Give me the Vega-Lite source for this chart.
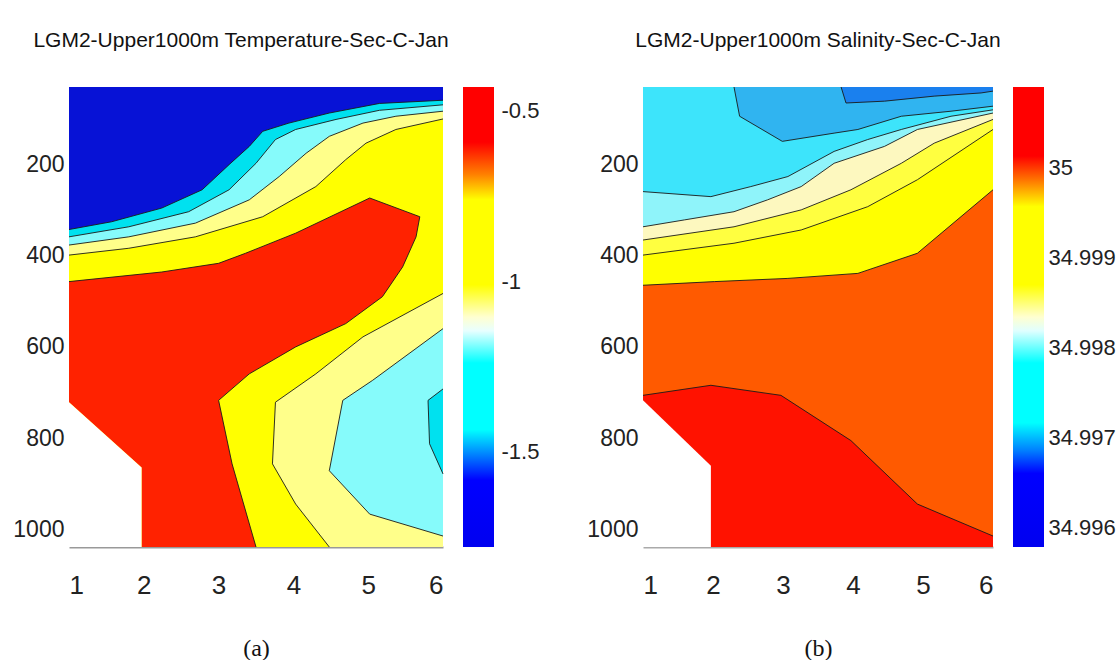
{
  "$schema": "https://vega.github.io/schema/vega-lite/v6.json",
  "background": "white",
  "padding": {"left": 12, "top": 30, "right": 0, "bottom": 0},
  "config": {
    "view": {"stroke": null},
    "font": "Liberation Sans",
    "axis": {"grid": false, "ticks": false, "tickSize": 0, "domain": false, "labelPadding": 5, "labelColor": "#222", "labelFont": "Liberation Sans"},
    "title": {"font": "Liberation Sans", "fontSize": 21, "fontWeight": "normal", "color": "#111"}
  },
  "datasets": {
    "fa": [
      {"p":"a1","o":0,"x":1,"d":31},{"p":"a1","o":1,"x":6,"d":31},{"p":"a1","o":2,"x":6,"d":1038},{"p":"a1","o":3,"x":1,"d":1038},
      {"p":"a2","o":0,"x":1,"d":343},{"p":"a2","o":1,"x":1.57,"d":326},{"p":"a2","o":2,"x":2.24,"d":296},{"p":"a2","o":3,"x":2.78,"d":256},{"p":"a2","o":4,"x":3.14,"d":201},{"p":"a2","o":5,"x":3.41,"d":161},{"p":"a2","o":6,"x":3.59,"d":128},{"p":"a2","o":7,"x":3.94,"d":110},{"p":"a2","o":8,"x":4.48,"d":88},{"p":"a2","o":9,"x":5.15,"d":67},{"p":"a2","o":10,"x":6,"d":60},{"p":"a2","o":11,"x":6,"d":1038},{"p":"a2","o":12,"x":1,"d":1038},
      {"p":"a3","o":0,"x":1,"d":359},{"p":"a3","o":1,"x":1.8,"d":337},{"p":"a3","o":2,"x":2.6,"d":304},{"p":"a3","o":3,"x":3.14,"d":256},{"p":"a3","o":4,"x":3.5,"d":198},{"p":"a3","o":5,"x":3.76,"d":146},{"p":"a3","o":6,"x":4.03,"d":124},{"p":"a3","o":7,"x":4.57,"d":102},{"p":"a3","o":8,"x":5.15,"d":82},{"p":"a3","o":9,"x":6,"d":70},{"p":"a3","o":10,"x":6,"d":1038},{"p":"a3","o":11,"x":1,"d":1038},
      {"p":"a4","o":0,"x":1,"d":377},{"p":"a4","o":1,"x":1.8,"d":359},{"p":"a4","o":2,"x":2.69,"d":329},{"p":"a4","o":3,"x":3.41,"d":278},{"p":"a4","o":4,"x":3.81,"d":227},{"p":"a4","o":5,"x":4.17,"d":176},{"p":"a4","o":6,"x":4.48,"d":139},{"p":"a4","o":7,"x":4.93,"d":110},{"p":"a4","o":8,"x":5.37,"d":95},{"p":"a4","o":9,"x":6,"d":84},{"p":"a4","o":10,"x":6,"d":1038},{"p":"a4","o":11,"x":1,"d":1038},
      {"p":"a5","o":0,"x":1,"d":399},{"p":"a5","o":1,"x":1.8,"d":384},{"p":"a5","o":2,"x":2.69,"d":359},{"p":"a5","o":3,"x":3.59,"d":315},{"p":"a5","o":4,"x":4.3,"d":249},{"p":"a5","o":5,"x":4.7,"d":190},{"p":"a5","o":6,"x":4.97,"d":154},{"p":"a5","o":7,"x":5.37,"d":124},{"p":"a5","o":8,"x":6,"d":101},{"p":"a5","o":9,"x":6,"d":1038},{"p":"a5","o":10,"x":1,"d":1038},
      {"p":"a6","o":0,"x":6,"d":483},{"p":"a6","o":1,"x":4.93,"d":578},{"p":"a6","o":2,"x":4.3,"d":659},{"p":"a6","o":3,"x":3.76,"d":721},{"p":"a6","o":4,"x":3.72,"d":856},{"p":"a6","o":5,"x":4.03,"d":944},{"p":"a6","o":6,"x":4.48,"d":1038},{"p":"a6","o":7,"x":6,"d":1038},
      {"p":"a7","o":0,"x":6,"d":560},{"p":"a7","o":1,"x":5.06,"d":673},{"p":"a7","o":2,"x":4.66,"d":717},{"p":"a7","o":3,"x":4.48,"d":871},{"p":"a7","o":4,"x":5.02,"d":966},{"p":"a7","o":5,"x":6,"d":1014},
      {"p":"a8","o":0,"x":6,"d":692},{"p":"a8","o":1,"x":5.8,"d":717},{"p":"a8","o":2,"x":5.82,"d":812},{"p":"a8","o":3,"x":6,"d":878},
      {"p":"a9","o":0,"x":1,"d":457},{"p":"a9","o":1,"x":2.24,"d":436},{"p":"a9","o":2,"x":3,"d":417},{"p":"a9","o":3,"x":3.36,"d":395},{"p":"a9","o":4,"x":4.03,"d":351},{"p":"a9","o":5,"x":5.02,"d":274},{"p":"a9","o":6,"x":5.69,"d":315},{"p":"a9","o":7,"x":5.64,"d":359},{"p":"a9","o":8,"x":5.46,"d":425},{"p":"a9","o":9,"x":5.19,"d":490},{"p":"a9","o":10,"x":4.7,"d":549},{"p":"a9","o":11,"x":4.03,"d":600},{"p":"a9","o":12,"x":3.41,"d":659},{"p":"a9","o":13,"x":3,"d":717},{"p":"a9","o":14,"x":3.18,"d":856},{"p":"a9","o":15,"x":3.5,"d":1038},{"p":"a9","o":16,"x":1.97,"d":1038},{"p":"a9","o":17,"x":1.97,"d":864},{"p":"a9","o":18,"x":1,"d":721},
      {"p":"a10","o":0,"x":1,"d":721},{"p":"a10","o":1,"x":1.97,"d":864},{"p":"a10","o":2,"x":1.97,"d":1038},{"p":"a10","o":3,"x":1,"d":1038}
    ],
    "la": [
      {"l":"A1","o":0,"x":1,"d":343},{"l":"A1","o":1,"x":1.57,"d":326},{"l":"A1","o":2,"x":2.24,"d":296},{"l":"A1","o":3,"x":2.78,"d":256},{"l":"A1","o":4,"x":3.14,"d":201},{"l":"A1","o":5,"x":3.41,"d":161},{"l":"A1","o":6,"x":3.59,"d":128},{"l":"A1","o":7,"x":3.94,"d":110},{"l":"A1","o":8,"x":4.48,"d":88},{"l":"A1","o":9,"x":5.15,"d":67},{"l":"A1","o":10,"x":6,"d":60},
      {"l":"A2","o":0,"x":1,"d":359},{"l":"A2","o":1,"x":1.8,"d":337},{"l":"A2","o":2,"x":2.6,"d":304},{"l":"A2","o":3,"x":3.14,"d":256},{"l":"A2","o":4,"x":3.5,"d":198},{"l":"A2","o":5,"x":3.76,"d":146},{"l":"A2","o":6,"x":4.03,"d":124},{"l":"A2","o":7,"x":4.57,"d":102},{"l":"A2","o":8,"x":5.15,"d":82},{"l":"A2","o":9,"x":6,"d":70},
      {"l":"A3","o":0,"x":1,"d":377},{"l":"A3","o":1,"x":1.8,"d":359},{"l":"A3","o":2,"x":2.69,"d":329},{"l":"A3","o":3,"x":3.41,"d":278},{"l":"A3","o":4,"x":3.81,"d":227},{"l":"A3","o":5,"x":4.17,"d":176},{"l":"A3","o":6,"x":4.48,"d":139},{"l":"A3","o":7,"x":4.93,"d":110},{"l":"A3","o":8,"x":5.37,"d":95},{"l":"A3","o":9,"x":6,"d":84},
      {"l":"A4","o":0,"x":1,"d":399},{"l":"A4","o":1,"x":1.8,"d":384},{"l":"A4","o":2,"x":2.69,"d":359},{"l":"A4","o":3,"x":3.59,"d":315},{"l":"A4","o":4,"x":4.3,"d":249},{"l":"A4","o":5,"x":4.7,"d":190},{"l":"A4","o":6,"x":4.97,"d":154},{"l":"A4","o":7,"x":5.37,"d":124},{"l":"A4","o":8,"x":6,"d":101},
      {"l":"A5","o":0,"x":6,"d":483},{"l":"A5","o":1,"x":4.93,"d":578},{"l":"A5","o":2,"x":4.3,"d":659},{"l":"A5","o":3,"x":3.76,"d":721},{"l":"A5","o":4,"x":3.72,"d":856},{"l":"A5","o":5,"x":4.03,"d":944},{"l":"A5","o":6,"x":4.48,"d":1038},
      {"l":"A6","o":0,"x":6,"d":560},{"l":"A6","o":1,"x":5.06,"d":673},{"l":"A6","o":2,"x":4.66,"d":717},{"l":"A6","o":3,"x":4.48,"d":871},{"l":"A6","o":4,"x":5.02,"d":966},{"l":"A6","o":5,"x":6,"d":1014},
      {"l":"A7","o":0,"x":6,"d":692},{"l":"A7","o":1,"x":5.8,"d":717},{"l":"A7","o":2,"x":5.82,"d":812},{"l":"A7","o":3,"x":6,"d":878},
      {"l":"A8","o":0,"x":1,"d":457},{"l":"A8","o":1,"x":2.24,"d":436},{"l":"A8","o":2,"x":3,"d":417},{"l":"A8","o":3,"x":3.36,"d":395},{"l":"A8","o":4,"x":4.03,"d":351},{"l":"A8","o":5,"x":5.02,"d":274},{"l":"A8","o":6,"x":5.69,"d":315},{"l":"A8","o":7,"x":5.64,"d":359},{"l":"A8","o":8,"x":5.46,"d":425},{"l":"A8","o":9,"x":5.19,"d":490},{"l":"A8","o":10,"x":4.7,"d":549},{"l":"A8","o":11,"x":4.03,"d":600},{"l":"A8","o":12,"x":3.41,"d":659},{"l":"A8","o":13,"x":3,"d":717},{"l":"A8","o":14,"x":3.18,"d":856},{"l":"A8","o":15,"x":3.5,"d":1038}
    ],
    "fb": [
      {"p":"b1","o":0,"x":1,"d":31},{"p":"b1","o":1,"x":6,"d":31},{"p":"b1","o":2,"x":6,"d":1038},{"p":"b1","o":3,"x":1,"d":1038},
      {"p":"b2","o":0,"x":1,"d":260},{"p":"b2","o":1,"x":1.97,"d":271},{"p":"b2","o":2,"x":2.54,"d":249},{"p":"b2","o":3,"x":3.07,"d":227},{"p":"b2","o":4,"x":3.73,"d":172},{"p":"b2","o":5,"x":4.21,"d":146},{"p":"b2","o":6,"x":4.69,"d":124},{"p":"b2","o":7,"x":5.4,"d":95},{"p":"b2","o":8,"x":6,"d":81},{"p":"b2","o":9,"x":6,"d":1038},{"p":"b2","o":10,"x":1,"d":1038},
      {"p":"b3","o":0,"x":1,"d":337},{"p":"b3","o":1,"x":1.59,"d":322},{"p":"b3","o":2,"x":2.3,"d":304},{"p":"b3","o":3,"x":2.78,"d":278},{"p":"b3","o":4,"x":3.26,"d":249},{"p":"b3","o":5,"x":3.73,"d":198},{"p":"b3","o":6,"x":4.45,"d":161},{"p":"b3","o":7,"x":4.92,"d":124},{"p":"b3","o":8,"x":6,"d":88},{"p":"b3","o":9,"x":6,"d":1038},{"p":"b3","o":10,"x":1,"d":1038},
      {"p":"b4","o":0,"x":1,"d":366},{"p":"b4","o":1,"x":2.3,"d":337},{"p":"b4","o":2,"x":3.26,"d":300},{"p":"b4","o":3,"x":3.97,"d":256},{"p":"b4","o":4,"x":4.69,"d":198},{"p":"b4","o":5,"x":5.16,"d":154},{"p":"b4","o":6,"x":6,"d":102},{"p":"b4","o":7,"x":6,"d":1038},{"p":"b4","o":8,"x":1,"d":1038},
      {"p":"b5","o":0,"x":1,"d":399},{"p":"b5","o":1,"x":2.3,"d":373},{"p":"b5","o":2,"x":3.26,"d":344},{"p":"b5","o":3,"x":4.21,"d":293},{"p":"b5","o":4,"x":4.92,"d":234},{"p":"b5","o":5,"x":6,"d":124},{"p":"b5","o":6,"x":6,"d":1038},{"p":"b5","o":7,"x":1,"d":1038},
      {"p":"b6","o":0,"x":1,"d":465},{"p":"b6","o":1,"x":2.02,"d":457},{"p":"b6","o":2,"x":3.07,"d":450},{"p":"b6","o":3,"x":4.07,"d":439},{"p":"b6","o":4,"x":4.92,"d":395},{"p":"b6","o":5,"x":6,"d":256},{"p":"b6","o":6,"x":6,"d":1038},{"p":"b6","o":7,"x":1,"d":1038},
      {"p":"b7","o":0,"x":1,"d":706},{"p":"b7","o":1,"x":1.97,"d":684},{"p":"b7","o":2,"x":2.97,"d":706},{"p":"b7","o":3,"x":3.97,"d":805},{"p":"b7","o":4,"x":4.92,"d":944},{"p":"b7","o":5,"x":6,"d":1014},{"p":"b7","o":6,"x":6,"d":1038},{"p":"b7","o":7,"x":1,"d":1038},
      {"p":"b8","o":0,"x":1,"d":717},{"p":"b8","o":1,"x":1.97,"d":860},{"p":"b8","o":2,"x":1.97,"d":1038},{"p":"b8","o":3,"x":1,"d":1038},
      {"p":"b9","o":0,"x":2.3,"d":31},{"p":"b9","o":1,"x":2.38,"d":95},{"p":"b9","o":2,"x":2.99,"d":150},{"p":"b9","o":3,"x":3.73,"d":132},{"p":"b9","o":4,"x":4.07,"d":124},{"p":"b9","o":5,"x":4.69,"d":95},{"p":"b9","o":6,"x":5.4,"d":84},{"p":"b9","o":7,"x":6,"d":73},{"p":"b9","o":8,"x":6,"d":31},
      {"p":"b10","o":0,"x":3.83,"d":31},{"p":"b10","o":1,"x":3.9,"d":66},{"p":"b10","o":2,"x":4.45,"d":62},{"p":"b10","o":3,"x":5.16,"d":51},{"p":"b10","o":4,"x":5.83,"d":44},{"p":"b10","o":5,"x":6,"d":40},{"p":"b10","o":6,"x":6,"d":31}
    ],
    "lb": [
      {"l":"B0","o":0,"x":1,"d":260},{"l":"B0","o":1,"x":1.97,"d":271},{"l":"B0","o":2,"x":2.54,"d":249},{"l":"B0","o":3,"x":3.07,"d":227},{"l":"B0","o":4,"x":3.73,"d":172},{"l":"B0","o":5,"x":4.21,"d":146},{"l":"B0","o":6,"x":4.69,"d":124},{"l":"B0","o":7,"x":5.4,"d":95},{"l":"B0","o":8,"x":6,"d":81},
      {"l":"B1","o":0,"x":1,"d":337},{"l":"B1","o":1,"x":1.59,"d":322},{"l":"B1","o":2,"x":2.3,"d":304},{"l":"B1","o":3,"x":2.78,"d":278},{"l":"B1","o":4,"x":3.26,"d":249},{"l":"B1","o":5,"x":3.73,"d":198},{"l":"B1","o":6,"x":4.45,"d":161},{"l":"B1","o":7,"x":4.92,"d":124},{"l":"B1","o":8,"x":6,"d":88},
      {"l":"B2","o":0,"x":1,"d":366},{"l":"B2","o":1,"x":2.3,"d":337},{"l":"B2","o":2,"x":3.26,"d":300},{"l":"B2","o":3,"x":3.97,"d":256},{"l":"B2","o":4,"x":4.69,"d":198},{"l":"B2","o":5,"x":5.16,"d":154},{"l":"B2","o":6,"x":6,"d":102},
      {"l":"B3","o":0,"x":1,"d":399},{"l":"B3","o":1,"x":2.3,"d":373},{"l":"B3","o":2,"x":3.26,"d":344},{"l":"B3","o":3,"x":4.21,"d":293},{"l":"B3","o":4,"x":4.92,"d":234},{"l":"B3","o":5,"x":6,"d":124},
      {"l":"B4","o":0,"x":1,"d":465},{"l":"B4","o":1,"x":2.02,"d":457},{"l":"B4","o":2,"x":3.07,"d":450},{"l":"B4","o":3,"x":4.07,"d":439},{"l":"B4","o":4,"x":4.92,"d":395},{"l":"B4","o":5,"x":6,"d":256},
      {"l":"B5","o":0,"x":1,"d":706},{"l":"B5","o":1,"x":1.97,"d":684},{"l":"B5","o":2,"x":2.97,"d":706},{"l":"B5","o":3,"x":3.97,"d":805},{"l":"B5","o":4,"x":4.92,"d":944},{"l":"B5","o":5,"x":6,"d":1014},
      {"l":"B6","o":0,"x":2.3,"d":31},{"l":"B6","o":1,"x":2.38,"d":95},{"l":"B6","o":2,"x":2.99,"d":150},{"l":"B6","o":3,"x":3.73,"d":132},{"l":"B6","o":4,"x":4.07,"d":124},{"l":"B6","o":5,"x":4.69,"d":95},{"l":"B6","o":6,"x":5.4,"d":84},{"l":"B6","o":7,"x":6,"d":73},
      {"l":"B7","o":0,"x":3.83,"d":31},{"l":"B7","o":1,"x":3.9,"d":66},{"l":"B7","o":2,"x":4.45,"d":62},{"l":"B7","o":3,"x":5.16,"d":51},{"l":"B7","o":4,"x":5.83,"d":44},{"l":"B7","o":5,"x":6,"d":40}
    ]
  },
  "bounds": "flush",
  "spacing": 20,
  "hconcat": [
    {
      "width": 374, "height": 460,
      "title": {"text": "LGM2-Upper1000m Temperature-Sec-C-Jan", "dx": -15, "offset": 36},
      "data": {"name": "fa"},
      "encoding": {
        "x": {"field": "x", "type": "quantitative", "scale": {"domain": [1, 6], "nice": false, "zero": false},
              "axis": {"values": [1, 2, 3, 4, 5, 6], "title": "(a)", "domain": true, "domainColor": "#999", "domainWidth": 2, "labelFontSize": 26, "labelPadding": 25, "titleFont": "Liberation Serif", "titleFontSize": 24, "titleFontWeight": "normal", "titleColor": "#111", "titlePadding": 38}},
        "y": {"field": "d", "type": "quantitative", "scale": {"domain": [31, 1038], "reverse": true, "nice": false, "zero": false},
              "axis": {"values": [200, 400, 600, 800, 1000], "labelExpr": "'' + datum.value", "title": null, "labelFontSize": 23, "labelPadding": 5}},
        "order": {"field": "o", "type": "quantitative"}
      },
      "layer": [
        {"transform": [{"filter": "datum.p === 'a1'"}], "mark": {"type": "line", "filled": true, "color": "#0712d6", "strokeWidth": 0}},
        {"transform": [{"filter": "datum.p === 'a2'"}], "mark": {"type": "line", "filled": true, "color": "#00e1ef", "strokeWidth": 0}},
        {"transform": [{"filter": "datum.p === 'a3'"}], "mark": {"type": "line", "filled": true, "color": "#86fbfb", "strokeWidth": 0}},
        {"transform": [{"filter": "datum.p === 'a4'"}], "mark": {"type": "line", "filled": true, "color": "#ffff8a", "strokeWidth": 0}},
        {"transform": [{"filter": "datum.p === 'a5'"}], "mark": {"type": "line", "filled": true, "color": "#ffff00", "strokeWidth": 0}},
        {"transform": [{"filter": "datum.p === 'a6'"}], "mark": {"type": "line", "filled": true, "color": "#ffff8a", "strokeWidth": 0}},
        {"transform": [{"filter": "datum.p === 'a7'"}], "mark": {"type": "line", "filled": true, "color": "#86fbfb", "strokeWidth": 0}},
        {"transform": [{"filter": "datum.p === 'a8'"}], "mark": {"type": "line", "filled": true, "color": "#00e1ef", "strokeWidth": 0}},
        {"transform": [{"filter": "datum.p === 'a9'"}], "mark": {"type": "line", "filled": true, "color": "#ff2200", "strokeWidth": 0}},
        {"transform": [{"filter": "datum.p === 'a10'"}], "mark": {"type": "line", "filled": true, "color": "#ffffff", "strokeWidth": 0}},
        {"data": {"name": "la"}, "mark": {"type": "line", "color": "#1a1a1a", "strokeWidth": 0.9}, "encoding": {"detail": {"field": "l"}}}
      ]
    },
    {
      "width": 31, "height": 460,
      "data": {"values": [{"x0": 0, "x1": 1, "lo": -1.78, "hi": -0.43}]},
      "mark": {"type": "rect", "fill": {"gradient": "linear", "x1": 0, "y1": 0, "x2": 0, "y2": 1, "stops": [
        {"offset": 0, "color": "#ff0000"}, {"offset": 0.12, "color": "#ff0000"}, {"offset": 0.19, "color": "#ff8000"}, {"offset": 0.245, "color": "#ffff00"},
        {"offset": 0.43, "color": "#ffff00"}, {"offset": 0.5, "color": "#ffffd0"}, {"offset": 0.53, "color": "#e8ffff"}, {"offset": 0.6, "color": "#00ffff"},
        {"offset": 0.745, "color": "#00ffff"}, {"offset": 0.8, "color": "#0080ff"}, {"offset": 0.855, "color": "#0000ff"}, {"offset": 1, "color": "#0000f0"}]}},
      "encoding": {
        "x": {"field": "x0", "type": "quantitative", "scale": {"domain": [0, 1], "nice": false, "zero": false}, "axis": null},
        "x2": {"field": "x1"},
        "y": {"field": "lo", "type": "quantitative", "scale": {"domain": [-1.78, -0.43], "nice": false, "zero": false},
              "axis": {"orient": "right", "values": [-0.5, -1, -1.5], "labelExpr": "'' + datum.value", "title": null, "labelFontSize": 22, "labelPadding": 7}},
        "y2": {"field": "hi"}
      }
    },
    {
      "width": 109, "height": 460,
      "data": {"values": []},
      "mark": {"type": "point", "opacity": 0},
      "encoding": {}
    },
    {
      "width": 350, "height": 460,
      "title": {"text": "LGM2-Upper1000m Salinity-Sec-C-Jan", "offset": 34},
      "data": {"name": "fb"},
      "encoding": {
        "x": {"field": "x", "type": "quantitative", "scale": {"domain": [1, 6], "nice": false, "zero": false},
              "axis": {"values": [1, 2, 3, 4, 5, 6], "title": "(b)", "domain": true, "domainColor": "#aaa", "domainWidth": 2, "labelFontSize": 26, "labelPadding": 25, "titleFont": "Liberation Serif", "titleFontSize": 24, "titleFontWeight": "normal", "titleColor": "#111", "titlePadding": 38}},
        "y": {"field": "d", "type": "quantitative", "scale": {"domain": [31, 1038], "reverse": true, "nice": false, "zero": false},
              "axis": {"values": [200, 400, 600, 800, 1000], "labelExpr": "'' + datum.value", "title": null, "labelFontSize": 23, "labelPadding": 5}},
        "order": {"field": "o", "type": "quantitative"}
      },
      "layer": [
        {"transform": [{"filter": "datum.p === 'b1'"}], "mark": {"type": "line", "filled": true, "color": "#3de4fb", "strokeWidth": 0}},
        {"transform": [{"filter": "datum.p === 'b2'"}], "mark": {"type": "line", "filled": true, "color": "#8ff4fa", "strokeWidth": 0}},
        {"transform": [{"filter": "datum.p === 'b3'"}], "mark": {"type": "line", "filled": true, "color": "#fdf8bf", "strokeWidth": 0}},
        {"transform": [{"filter": "datum.p === 'b4'"}], "mark": {"type": "line", "filled": true, "color": "#ffff40", "strokeWidth": 0}},
        {"transform": [{"filter": "datum.p === 'b5'"}], "mark": {"type": "line", "filled": true, "color": "#ffff00", "strokeWidth": 0}},
        {"transform": [{"filter": "datum.p === 'b6'"}], "mark": {"type": "line", "filled": true, "color": "#ff5a00", "strokeWidth": 0}},
        {"transform": [{"filter": "datum.p === 'b7'"}], "mark": {"type": "line", "filled": true, "color": "#ff1200", "strokeWidth": 0}},
        {"transform": [{"filter": "datum.p === 'b9'"}], "mark": {"type": "line", "filled": true, "color": "#30b4f0", "strokeWidth": 0}},
        {"transform": [{"filter": "datum.p === 'b10'"}], "mark": {"type": "line", "filled": true, "color": "#1a80ee", "strokeWidth": 0}},
        {"transform": [{"filter": "datum.p === 'b8'"}], "mark": {"type": "line", "filled": true, "color": "#ffffff", "strokeWidth": 0}},
        {"data": {"name": "lb"}, "mark": {"type": "line", "color": "#1a1a1a", "strokeWidth": 0.9}, "encoding": {"detail": {"field": "l"}}}
      ]
    },
    {
      "width": 31, "height": 460,
      "data": {"values": [{"x0": 0, "x1": 1, "lo": 34.99578, "hi": 35.0009}]},
      "mark": {"type": "rect", "fill": {"gradient": "linear", "x1": 0, "y1": 0, "x2": 0, "y2": 1, "stops": [
        {"offset": 0, "color": "#ff0000"}, {"offset": 0.15, "color": "#ff0000"}, {"offset": 0.2, "color": "#ff7000"}, {"offset": 0.26, "color": "#ffff00"},
        {"offset": 0.43, "color": "#ffff00"}, {"offset": 0.5, "color": "#ffffd0"}, {"offset": 0.53, "color": "#e0ffff"}, {"offset": 0.6, "color": "#00ffff"},
        {"offset": 0.73, "color": "#00ffff"}, {"offset": 0.79, "color": "#0080ff"}, {"offset": 0.84, "color": "#0000ff"}, {"offset": 1, "color": "#0000f0"}]}},
      "encoding": {
        "x": {"field": "x0", "type": "quantitative", "scale": {"domain": [0, 1], "nice": false, "zero": false}, "axis": null},
        "x2": {"field": "x1"},
        "y": {"field": "lo", "type": "quantitative", "scale": {"domain": [34.99578, 35.0009], "nice": false, "zero": false},
              "axis": {"orient": "right", "values": [35, 34.999, 34.998, 34.997, 34.996], "labelExpr": "'' + datum.value", "title": null, "labelFontSize": 22, "labelPadding": 4}},
        "y2": {"field": "hi"}
      }
    }
  ]
}
